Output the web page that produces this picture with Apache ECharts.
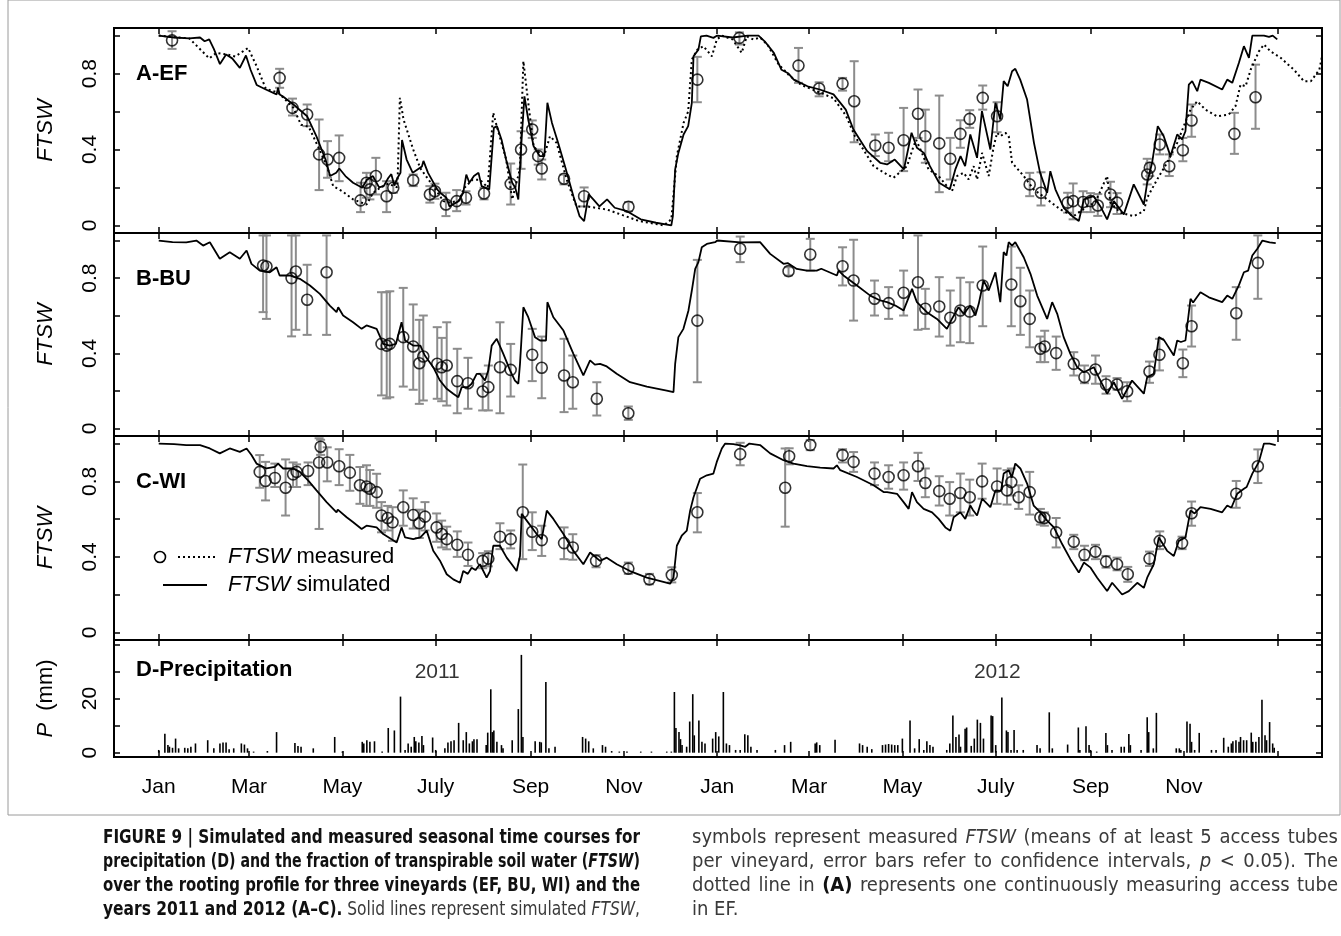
<!DOCTYPE html>
<html>
<head>
<meta charset="utf-8">
<script src="https://cdn.jsdelivr.net/npm/echarts@6/dist/echarts.min.js"></script>
<style>
  html,body{margin:0;padding:0;background:#fff;}
  #wrap{position:relative;width:1341px;height:936px;overflow:hidden;}
  #chart{position:absolute;left:0;top:0;width:1341px;height:936px;}
  .cap{position:absolute;font-family:"Liberation Sans Narrow","DejaVu Sans Condensed","Liberation Sans",Arial,sans-serif;font-stretch:condensed;font-size:20px;line-height:24px;color:#3a3a3a;}
  .cap div{white-space:nowrap;height:24px;}
  .cap span.ln{display:inline-block;transform-origin:0 0;}
  .cap b{color:#111;}
</style>
</head>
<body>
<div id="wrap">
  <div id="chart"></div>
  <div class="cap" id="capL" style="left:103px;top:824px;width:537px;">
    <div><span class="ln j"><b>FIGURE 9 | Simulated and measured seasonal time courses for</b></span></div>
    <div><span class="ln j"><b>precipitation (D) and the fraction of transpirable soil water (<i>FTSW</i>)</b></span></div>
    <div><span class="ln j"><b>over the rooting profile for three vineyards (EF, BU, WI) and the</b></span></div>
    <div><span class="ln j"><b>years 2011 and 2012 (A–C).</b> Solid lines represent simulated <i>FTSW</i>,</span></div>
  </div>
  <div class="cap" id="capR" style="left:692px;top:824px;width:646px;">
    <div><span class="ln j">symbols represent measured <i>FTSW</i> (means of at least 5 access tubes</span></div>
    <div><span class="ln j">per vineyard, error bars refer to confidence intervals, <i>p</i> &lt; 0.05). The</span></div>
    <div><span class="ln j">dotted line in <b>(A)</b> represents one continuously measuring access tube</span></div>
    <div><span class="ln">in EF.</span></div>
  </div>
</div>
<script>
// ---------------- DATA (x = days since 1 Jan 2011) ----------------
const monthTickDays   = [0, 59, 120, 181, 243, 304, 365, 425, 486, 547, 609, 670, 731];
const monthTickLabels = ['Jan','Mar','May','July','Sep','Nov','Jan','Mar','May','July','Sep','Nov',''];
const ftswTicks  = [0, 0.2, 0.4, 0.6, 0.8, 1.0];
const ftswLabels = [0, 0.4, 0.8];
const precipTicks  = [0, 10, 20, 30, 40];
const precipLabels = [0, 20];
const yearLabels = [[182, 29.7, '2011'], [548, 29.7, '2012']];

// Panel A (EF) simulated FTSW
const simA = [[0,1.0],[10,0.99],[20,0.985],[27,0.99],[30,0.97],[33,0.98],[36,0.93],[40,0.85],[44,0.90],[48,0.88],[53,0.83],[57,0.895],[60,0.82],[64,0.74],[70,0.716],[77,0.69],[78,0.725],[79,0.69],[81,0.68],[88,0.637],[97,0.575],[103,0.47],[109,0.347],[112,0.26],[116,0.277],[118,0.30],[122,0.26],[127,0.225],[133,0.198],[136,0.24],[140,0.26],[144,0.2],[147,0.207],[150,0.25],[152,0.27],[154,0.21],[156,0.25],[158,0.277],[159,0.45],[162,0.347],[166,0.277],[172,0.31],[173,0.34],[176,0.277],[182,0.19],[184,0.172],[188,0.146],[190,0.10],[196,0.128],[199,0.172],[201,0.268],[203,0.225],[206,0.26],[209,0.277],[211,0.207],[216,0.19],[219,0.514],[221,0.523],[224,0.453],[227,0.347],[231,0.225],[233,0.198],[235,0.137],[237,0.435],[239,0.68],[241.5,0.558],[245,0.417],[249,0.365],[252,0.365],[254,0.646],[257,0.54],[261,0.435],[265.5,0.312],[271,0.154],[275,0.049],[278,0.023],[281,0.163],[284,0.137],[288,0.10],[293,0.137],[298,0.093],[306,0.075],[315,0.032],[325,0.014],[335,0.0],[336,0.049],[337.5,0.295],[339.6,0.382],[343,0.479],[346,0.523],[348.4,0.646],[349.5,0.891],[352.7,0.926],[354.3,0.996],[358,1.0],[362.5,0.988],[365,1.0],[375,0.99],[385,1.0],[392,1.0],[396,0.97],[402,0.909],[407,0.82],[411.6,0.80],[415,0.768],[424,0.733],[432,0.716],[441,0.69],[449,0.61],[454,0.505],[463,0.391],[471.5,0.33],[476,0.321],[481,0.347],[487,0.295],[492,0.488],[495.5,0.409],[500,0.382],[504,0.312],[510,0.225],[517,0.19],[520.6,0.295],[524,0.365],[527,0.312],[530.4,0.479],[534.8,0.356],[538,0.602],[543.5,0.4],[546.8,0.646],[550,0.558],[552.2,0.76],[554.8,0.733],[557.7,0.812],[559.8,0.825],[563,0.768],[567.5,0.663],[572,0.435],[576,0.277],[580.6,0.172],[582.7,0.286],[586,0.19],[591.4,0.093],[597,0.049],[601.3,0.023],[604.6,0.137],[611,0.154],[615.4,0.10],[619.8,0.032],[624.2,0.128],[630.7,0.058],[637.2,0.216],[643.8,0.11],[646,0.225],[649.2,0.33],[652.9,0.523],[656.8,0.47],[661.2,0.365],[665.6,0.479],[668.8,0.453],[671,0.496],[673.2,0.742],[675.4,0.76],[678.7,0.707],[680.8,0.768],[686.3,0.751],[695,0.716],[698.3,0.768],[701.6,0.751],[705.9,0.856],[709.2,0.944],[712.5,0.883],[714.7,1.0],[722.3,1.0],[725.6,0.993],[728,1.0],[731,0.98]];

// Panel A continuously measuring access tube (dotted)
const tubeA = [[0,1.0],[20,0.985],[33,0.88],[37.7,0.909],[45,0.90],[50,0.89],[58.4,0.935],[63.9,0.84],[70,0.72],[78,0.70],[88,0.62],[93,0.53],[98,0.52],[105,0.4],[110,0.31],[114,0.207],[120,0.18],[127,0.137],[135.8,0.11],[140,0.17],[145,0.2],[150,0.22],[156,0.2],[157.6,0.672],[160,0.558],[166.3,0.4],[171,0.30],[179.4,0.207],[186,0.128],[190,0.12],[196,0.13],[200,0.2],[205,0.24],[210,0.24],[215,0.2],[218.6,0.593],[221,0.52],[227,0.35],[231,0.137],[236,0.295],[238.3,0.865],[241.5,0.646],[245,0.417],[249,0.38],[252,0.37],[255.7,0.47],[260,0.435],[266.6,0.242],[273,0.10],[280,0.10],[292.8,0.084],[314,0.023],[330,0.0],[335,0.032],[338.6,0.365],[343,0.54],[346,0.6],[348.4,0.874],[352,0.926],[356,0.944],[361.5,0.891],[364.7,0.979],[368,1.0],[375,0.98],[381,0.909],[384.3,0.996],[388.7,0.979],[393,0.99],[398,0.95],[405,0.85],[412,0.79],[420,0.74],[432,0.7],[441,0.67],[449,0.58],[455,0.47],[462,0.38],[467.2,0.312],[476,0.268],[480.2,0.251],[489,0.312],[493.3,0.417],[495,0.45],[498.8,0.382],[503.1,0.295],[509.7,0.26],[515.1,0.207],[518.4,0.18],[521.7,0.26],[526,0.277],[529.3,0.242],[532.6,0.312],[534.8,0.242],[538.1,0.382],[542.4,0.26],[545.7,0.417],[547.9,0.488],[550,0.47],[553.3,0.488],[555.5,0.47],[557.7,0.33],[565.3,0.26],[571.8,0.19],[580.6,0.137],[589.3,0.084],[598,0.049],[606.7,0.10],[612,0.12],[619.8,0.26],[622,0.12],[628.5,0.067],[637.2,0.049],[643.8,0.075],[646,0.146],[652.5,0.242],[659,0.33],[665.6,0.435],[669.9,0.523],[674.3,0.61],[678.7,0.654],[684.1,0.61],[691.7,0.575],[699.3,0.584],[703.7,0.628],[707,0.742],[710.3,0.733],[713.6,0.82],[719,0.917],[722.3,0.953],[726.6,0.917],[733.2,0.883],[741.9,0.82],[748.4,0.76],[753,0.76],[758.5,0.82],[760.7,0.909]];

// Panel A measured: [day, mean, lower CI, upper CI]
const measA = [[8.7,0.975,0.93,1.023],[79,0.777,0.725,0.825],[87.4,0.619,0.579,0.668],[97,0.584,0.523,0.637],[104.8,0.374,0.186,0.558],[110.3,0.347,0.251,0.444],[117.9,0.356,0.233,0.474],[131.9,0.132,0.07,0.225],[135.8,0.225,0.146,0.277],[138,0.19,0.137,0.242],[141.9,0.26,0.163,0.356],[148.9,0.154,0.07,0.233],[153.3,0.198,0.172,0.233],[166.3,0.238,0.207,0.268],[177.2,0.163,0.12,0.207],[180.5,0.18,0.14,0.22],[187.7,0.11,0.049,0.172],[194.7,0.128,0.075,0.186],[200.8,0.146,0.11,0.18],[212.6,0.168,0.137,0.198],[230,0.219,0.11,0.326],[236.8,0.4,0.298,0.496],[244.1,0.505,0.461,0.553],[248,0.365,0.32,0.4],[250.3,0.3,0.242,0.347],[264.9,0.246,0.216,0.268],[278,0.154,0.1,0.2],[307,0.098,0.075,0.123],[352,0.768,0.649,0.888],[379.5,0.988,0.953,1.017],[418.1,0.842,0.751,0.935],[431.6,0.721,0.68,0.754],[446.9,0.747,0.71,0.777],[454.5,0.654,0.438,0.865],[468.3,0.421,0.365,0.479],[477,0.409,0.338,0.488],[486.8,0.449,0.286,0.619],[496.2,0.588,0.461,0.716],[501,0.47,0.33,0.61],[510.1,0.432,0.175,0.684],[517.3,0.351,0.242,0.461],[523.9,0.482,0.409,0.554],[530,0.561,0.514,0.607],[538.5,0.672,0.61,0.737],[547.9,0.575,0.491,0.649],[569.2,0.216,0.154,0.277],[576.6,0.172,0.105,0.28],[594,0.12,0.067,0.172],[597.6,0.128,0.032,0.221],[604.1,0.123,0.07,0.18],[609,0.128,0.07,0.17],[613.7,0.105,0.05,0.165],[622,0.163,0.096,0.23],[626.3,0.12,0.06,0.17],[646,0.268,0.216,0.351],[647.7,0.304,0.26,0.33],[654.2,0.426,0.374,0.479],[660.4,0.312,0.26,0.374],[669.3,0.396,0.338,0.461],[675,0.553,0.467,0.637],[703,0.482,0.377,0.593],[716.8,0.675,0.509,0.847]];

// Panel B (BU)
const simB = [[0,1.0],[9,0.991],[18,0.99],[24.6,1.0],[29,0.973],[33.4,0.991],[39.9,0.903],[46.4,0.938],[53,0.903],[57.4,0.947],[60.6,0.876],[66,0.84],[72.6,0.831],[77,0.858],[79,0.814],[85.7,0.814],[92.2,0.796],[98.8,0.761],[105.3,0.716],[111.8,0.654],[116.2,0.619],[117.3,0.645],[120.5,0.601],[127,0.565],[132.6,0.53],[135.8,0.548],[142.4,0.53],[146.7,0.45],[151,0.441],[155,0.45],[158.7,0.565],[161,0.468],[166.3,0.441],[171,0.441],[173.9,0.388],[179.4,0.326],[183.8,0.255],[188.2,0.211],[192.5,0.185],[195.8,0.166],[198,0.22],[202,0.22],[204.5,0.238],[207.8,0.291],[210,0.29],[213.2,0.255],[215.4,0.309],[217.6,0.441],[220.9,0.477],[225.2,0.397],[229.6,0.309],[232.8,0.255],[235,0.238],[236.1,0.344],[238.3,0.645],[241.5,0.592],[245.9,0.486],[249.2,0.468],[253.1,0.468],[254,0.672],[257.9,0.592],[264.5,0.521],[271,0.397],[277.5,0.282],[281.9,0.362],[285,0.34],[288.4,0.344],[292.8,0.33],[299.3,0.291],[308,0.246],[319,0.223],[332,0.202],[336.4,0.193],[337.5,0.344],[339.6,0.486],[342.9,0.53],[346.2,0.628],[348.4,0.734],[350.6,0.849],[352.7,0.885],[354.9,0.964],[358.2,0.982],[363.6,0.991],[365,1.0],[380,0.99],[393,0.991],[399.6,0.929],[408.3,0.876],[411,0.88],[417,0.849],[423.6,0.84],[430,0.84],[433,0.85],[443.2,0.814],[444.3,0.84],[447.5,0.814],[456.3,0.761],[465,0.707],[471.5,0.681],[476,0.672],[481.4,0.654],[486.8,0.628],[492.3,0.743],[495.5,0.672],[502,0.619],[508.6,0.583],[515.1,0.53],[518.4,0.583],[522.7,0.645],[526,0.61],[530.4,0.654],[533.7,0.601],[535.9,0.663],[539.1,0.787],[542.4,0.734],[546.8,0.831],[550,0.672],[552.2,0.938],[554,0.92],[555.5,0.991],[557.7,0.973],[559.8,0.991],[565.3,0.911],[569.7,0.823],[574.1,0.707],[580.6,0.583],[583.9,0.672],[587.2,0.61],[591.4,0.486],[595.8,0.397],[600.2,0.326],[604.6,0.299],[611.1,0.326],[615.4,0.255],[619.8,0.185],[624.2,0.246],[629.6,0.158],[636.1,0.255],[643.8,0.185],[646,0.273],[650.3,0.291],[653.6,0.486],[657,0.47],[663.4,0.388],[665.6,0.468],[668,0.46],[671,0.468],[674.3,0.69],[676,0.67],[680.8,0.725],[686.3,0.698],[695,0.672],[698.3,0.707],[701.6,0.69],[705.9,0.761],[709.2,0.831],[712,0.84],[714.7,0.92],[718,0.956],[721.3,1.0],[726,0.99],[730,0.986]];
const measB = [[68.2,0.867,0.619,1.027],[70.4,0.862,0.583,1.027],[86.8,0.8,0.49,1.027],[89.6,0.835,0.525,1.027],[97,0.685,0.498,0.871],[109.7,0.831,0.498,1.027],[145.6,0.45,0.176,0.725],[149,0.441,0.16,0.725],[151,0.45,0.166,0.73],[159.8,0.486,0.223,0.748],[166.3,0.436,0.206,0.66],[170.3,0.347,0.131,0.578],[172.9,0.383,0.149,0.601],[182,0.344,0.158,0.539],[184.9,0.326,0.145,0.482],[188.2,0.335,0.122,0.565],[195.1,0.252,0.081,0.424],[202.1,0.241,0.105,0.376],[211.7,0.197,0.096,0.291],[215.4,0.22,0.096,0.335],[223,0.326,0.081,0.565],[230,0.312,0.17,0.45],[244.1,0.392,0.252,0.53],[250.3,0.323,0.161,0.489],[264.9,0.282,0.087,0.477],[270.6,0.246,0.105,0.388],[286.3,0.158,0.069,0.246],[306.9,0.081,0.046,0.117],[352,0.574,0.246,0.897],[380,0.956,0.885,1.021],[411.6,0.837,0.814,0.858],[425.8,0.926,0.84,1.009],[446.9,0.863,0.761,0.964],[454.1,0.787,0.574,1.004],[467.8,0.69,0.601,0.787],[477,0.667,0.583,0.752],[486.8,0.722,0.601,0.84],[496.2,0.778,0.525,1.027],[501,0.637,0.53,0.743],[510.1,0.649,0.489,0.805],[517.3,0.589,0.441,0.734],[523.9,0.628,0.459,0.802],[530,0.622,0.454,0.778],[538.5,0.761,0.544,0.968],[557.2,0.766,0.544,0.968],[563.1,0.677,0.498,0.855],[569.2,0.583,0.432,0.734],[576.2,0.424,0.353,0.489],[579,0.436,0.353,0.52],[586.5,0.401,0.312,0.489],[598,0.344,0.282,0.406],[605,0.273,0.241,0.335],[612.2,0.314,0.238,0.388],[619.1,0.234,0.185,0.278],[626.3,0.234,0.206,0.268],[632.9,0.198,0.145,0.246],[647.5,0.303,0.243,0.356],[654,0.392,0.309,0.477],[669.3,0.347,0.273,0.42],[675,0.544,0.436,0.654],[704.2,0.613,0.472,0.752],[718.3,0.881,0.69,1.027]];

// Panel C (WI)
const simC = [[0,1.0],[10,0.997],[18,0.992],[27,0.992],[33.4,0.974],[39.9,0.948],[46.4,0.974],[53,0.956],[57.4,0.974],[60.6,0.939],[63.9,0.894],[70.4,0.868],[75.9,0.876],[78,0.894],[81.3,0.868],[87.8,0.868],[92.2,0.85],[97.6,0.805],[103.1,0.752],[109.7,0.69],[116.2,0.636],[117,0.65],[122.8,0.61],[127.1,0.583],[132.6,0.548],[135.8,0.565],[142.4,0.556],[146.7,0.521],[155.5,0.476],[158.7,0.556],[161,0.503],[166.3,0.494],[171,0.503],[175.1,0.539],[179.4,0.432],[183.8,0.38],[188.2,0.308],[192.5,0.281],[196.9,0.263],[199,0.325],[202,0.31],[204.5,0.343],[207,0.33],[209.9,0.361],[214.3,0.29],[216.5,0.325],[218.6,0.459],[223,0.459],[227.4,0.396],[230.7,0.361],[233.9,0.325],[236.1,0.405],[237.2,0.628],[240.5,0.592],[247,0.521],[250.3,0.494],[253.6,0.645],[257.9,0.601],[264.5,0.521],[271,0.432],[277.5,0.361],[281.9,0.423],[288.4,0.379],[292.8,0.396],[299.3,0.361],[308,0.325],[319,0.29],[334.2,0.258],[336.4,0.29],[338.6,0.459],[341.8,0.512],[345.1,0.539],[347.3,0.645],[349.5,0.716],[353.8,0.814],[358.2,0.832],[362.5,0.841],[364.7,0.903],[368,0.974],[370.2,1.0],[375.6,0.997],[380,0.99],[383.3,0.983],[386,1.0],[393,0.992],[399.6,0.948],[408.3,0.912],[414.8,0.894],[423.6,0.88],[432.3,0.873],[441,0.868],[443.2,0.885],[445.4,0.859],[456.3,0.823],[467.2,0.779],[473.7,0.743],[476,0.743],[482.5,0.734],[486.8,0.69],[490.1,0.654],[492.3,0.743],[495.5,0.69],[499.9,0.654],[505.4,0.636],[509.7,0.601],[514.1,0.556],[517.3,0.539],[519.5,0.61],[523.9,0.636],[527.1,0.601],[530.4,0.672],[532,0.65],[534.8,0.619],[538.1,0.708],[543.5,0.663],[546.8,0.752],[550.5,0.75],[552.2,0.841],[555.5,0.859],[557.5,0.82],[559.8,0.894],[563.1,0.868],[567.5,0.788],[571.8,0.672],[576.2,0.636],[580.6,0.592],[585,0.556],[590.4,0.468],[595.8,0.388],[601.3,0.317],[604.6,0.37],[609,0.343],[613.3,0.29],[619.8,0.219],[623.1,0.263],[629.6,0.201],[634,0.219],[639.5,0.263],[643.8,0.236],[646,0.29],[650.3,0.361],[653.6,0.503],[659,0.432],[663.4,0.405],[666.7,0.485],[671,0.503],[674.3,0.645],[677,0.63],[680.8,0.663],[687.4,0.654],[695,0.636],[698.3,0.672],[701,0.66],[704.8,0.734],[709.2,0.761],[711,0.77],[714.7,0.841],[719,0.903],[722.3,1.0],[726,1.0],[730,0.992]];
const measC = [[66,0.85,0.766,0.939],[69.8,0.802,0.699,0.903],[75.9,0.818,0.77,0.894],[82.9,0.766,0.619,0.916],[87.8,0.837,0.77,0.9],[90.1,0.85,0.77,0.89],[97.6,0.855,0.78,0.9],[104.8,0.9,0.548,1.028],[105.8,0.983,0.94,1.02],[110.1,0.9,0.8,0.98],[117.9,0.88,0.78,0.97],[124.9,0.846,0.75,0.94],[131.5,0.779,0.681,0.876],[135.8,0.773,0.67,0.885],[138,0.761,0.67,0.86],[142.4,0.743,0.66,0.84],[145.6,0.619,0.53,0.69],[149.6,0.606,0.54,0.67],[152.8,0.583,0.485,0.663],[159.8,0.663,0.565,0.752],[166.3,0.622,0.55,0.71],[170.3,0.578,0.5,0.65],[174,0.613,0.54,0.69],[181.6,0.556,0.48,0.63],[184.9,0.521,0.45,0.592],[188.2,0.494,0.44,0.56],[195.1,0.464,0.4,0.535],[202.1,0.411,0.352,0.476],[211.7,0.379,0.34,0.42],[215.4,0.391,0.35,0.43],[223,0.507,0.441,0.578],[230,0.494,0.445,0.54],[237.9,0.636,0.388,0.889],[244.1,0.533,0.436,0.636],[250.3,0.489,0.405,0.565],[264.9,0.473,0.388,0.556],[270.6,0.45,0.385,0.52],[285.8,0.379,0.345,0.41],[306.9,0.338,0.31,0.37],[320.7,0.281,0.255,0.31],[335.3,0.304,0.265,0.345],[352,0.636,0.53,0.738],[380,0.944,0.885,1.004],[409.4,0.766,0.56,0.974],[412,0.933,0.89,0.975],[425.8,0.992,0.965,1.019],[446.9,0.939,0.9,0.97],[454.1,0.903,0.85,0.955],[467.8,0.841,0.78,0.9],[477,0.823,0.761,0.885],[486.8,0.832,0.756,0.9],[496.2,0.88,0.802,0.951],[501,0.791,0.716,0.868],[510.1,0.748,0.672,0.827],[516.9,0.708,0.619,0.796],[523.9,0.738,0.636,0.841],[530,0.716,0.619,0.809],[538.1,0.8,0.708,0.894],[547.9,0.773,0.681,0.868],[554.4,0.752,0.677,0.859],[557.2,0.796,0.725,0.868],[562,0.716,0.654,0.779],[569.2,0.743,0.624,0.85],[576.2,0.61,0.571,0.654],[578.8,0.606,0.565,0.636],[586.5,0.53,0.45,0.606],[598,0.48,0.441,0.517],[605,0.411,0.382,0.459],[612.2,0.427,0.388,0.464],[619.1,0.375,0.343,0.405],[626.3,0.361,0.329,0.396],[633.3,0.308,0.268,0.347],[647.5,0.391,0.352,0.428],[654.2,0.485,0.441,0.535],[668.8,0.473,0.441,0.507],[675,0.631,0.565,0.693],[704.2,0.734,0.66,0.802],[718.3,0.88,0.791,0.969]];

// Panel D daily precipitation (mm), rainy days only
const precip = [[0,1.0],[4,7.0],[6,2.8],[7,2.2],[9,1.8],[11,5.2],[13,1.6],[17,1.8],[19,1.6],[21,2.2],[24,3.4],[32,4.6],[36,1.6],[40,3.4],[42,3.8],[44,3.8],[46,1.3],[49,1.6],[54,3.4],[56,3.0],[58,1.6],[62,0.4],[71,0.6],[77,7.6],[89,3.6],[91,2.5],[93,2.2],[101,1.6],[115,5.8],[120,0.4],[133,4.0],[134,3.4],[136,4.6],[138,4.0],[141,4.2],[146,0.4],[150,9.1],[154,8.2],[158,20.7],[161,1.0],[163,3.4],[165,2.2],[167,5.8],[168,4.2],[170,3.8],[172,6.2],[173,2.8],[179,5.6],[181,1.0],[187,1.6],[189,3.8],[191,4.2],[193,4.6],[196,11.0],[199,4.6],[201,7.6],[203,3.4],[205,4.2],[206,5.0],[208,5.0],[214,2.8],[215,7.4],[217,23.4],[218,7.6],[219,8.2],[221,4.0],[224,2.8],[225,1.6],[231,4.6],[235,16.1],[237,36.1],[238,5.8],[246,4.2],[249,4.0],[250,3.8],[253,26.1],[255,1.6],[259,2.2],[277,5.8],[279,5.2],[281,4.2],[284,1.6],[290,2.8],[292,2.2],[296,0.6],[301,0.4],[306,0.4],[315,0.4],[322,0.4],[332,0.4],[335,0.4],[337,22.4],[338,9.1],[340,7.6],[341,5.0],[342,2.8],[345,2.2],[347,11.5],[349,21.6],[350,6.4],[353,11.9],[355,4.0],[357,3.4],[362,5.2],[364,7.6],[366,6.0],[369,22.4],[371,3.4],[373,2.8],[377,1.0],[380,1.0],[383,6.8],[385,6.4],[387,2.2],[391,1.0],[403,1.0],[409,2.8],[413,4.0],[429,3.4],[430,3.8],[432,2.8],[442,4.8],[458,3.4],[460,2.8],[463,2.2],[466,1.3],[473,2.8],[475,3.0],[477,3.2],[479,3.0],[481,2.8],[483,2.8],[486,5.2],[491,11.9],[494,1.6],[497,5.0],[500,1.0],[502,4.2],[504,2.8],[506,2.2],[515,1.0],[517,3.4],[519,13.7],[521,5.8],[523,6.7],[524,2.2],[527,8.8],[528,9.3],[531,2.5],[533,5.2],[535,12.2],[537,11.0],[539,5.2],[544,13.7],[545,13.5],[547,2.8],[551,20.4],[554,8.2],[555,7.6],[557,1.0],[559,8.4],[561,1.0],[565,1.0],[574,2.8],[576,1.6],[582,14.9],[584,1.6],[594,3.0],[601,9.3],[602,1.0],[606,9.8],[608,2.8],[609,1.0],[613,0.4],[619,7.3],[620,2.8],[623,1.0],[629,2.2],[631,2.2],[634,6.9],[635,2.8],[642,1.0],[646,13.1],[647,7.6],[650,1.6],[652,14.7],[665,1.6],[667,1.6],[668,1.0],[672,11.5],[674,10.7],[675,4.0],[677,1.0],[680,7.3],[688,1.0],[691,1.0],[696,5.5],[699,2.2],[701,3.4],[702,4.2],[704,4.6],[706,4.0],[707,5.8],[709,4.6],[711,4.6],[714,7.4],[715,4.0],[717,4.0],[719,5.8],[721,19.5],[723,6.4],[724,4.6],[726,11.3],[728,3.4],[729,1.8]];

// ---------------- CHART ----------------
const FONT = '"Liberation Sans", Arial, Helvetica, sans-serif';
const X_MIN = -29.24, X_MAX = 760.24;
const chart = echarts.init(document.getElementById('chart'), null, {renderer: 'canvas'});

const grids = [
  {left: 114, right: 19, top: 28, height: 205},
  {left: 114, right: 19, top: 233, height: 203},
  {left: 114, right: 19, top: 436, height: 204},
  {left: 114, right: 19, top: 640, height: 117}
].map(g => Object.assign(g, {show: true, borderColor: '#000', borderWidth: 2, backgroundColor: 'transparent'}));

const tickStyle = {color: '#000', width: 1.5};
const xAxes = [], yAxes = [];
for (let i = 0; i < 4; i++) {
  xAxes.push({
    gridIndex: i, type: 'value', min: X_MIN, max: X_MAX, position: 'bottom',
    axisLine: {show: false, onZero: false}, splitLine: {show: false},
    axisTick: {show: true, inside: true, length: 6, customValues: monthTickDays, lineStyle: tickStyle},
    axisLabel: {
      show: i === 3, customValues: monthTickDays.slice(0, 12), margin: 20,
      fontFamily: FONT, fontSize: 21, color: '#000',
      formatter: v => { const k = monthTickDays.indexOf(Math.round(v)); return k >= 0 ? monthTickLabels[k] : ''; }
    }
  });
  xAxes.push({
    gridIndex: i, type: 'value', min: X_MIN, max: X_MAX, position: 'top',
    axisLine: {show: false, onZero: false}, splitLine: {show: false},
    axisTick: {show: true, inside: true, length: 6, customValues: monthTickDays, lineStyle: tickStyle},
    axisLabel: {show: false}
  });
  const isP = i === 3;
  yAxes.push({
    gridIndex: i, type: 'value', position: 'left',
    min: isP ? -1.6 : -0.04, max: isP ? 41.6 : 1.04,
    axisLine: {show: false, onZero: false}, splitLine: {show: false},
    axisTick: {show: true, inside: true, length: 6, customValues: isP ? precipTicks : ftswTicks, lineStyle: tickStyle},
    axisLabel: {
      customValues: isP ? precipLabels : ftswLabels, rotate: 90, margin: 13,
      fontFamily: FONT, fontSize: 21, color: '#000',
      formatter: v => String(Math.round(v * 10) / 10)
    },
    name: isP ? '{i|P}  (mm)' : 'FTSW', nameLocation: 'middle', nameRotate: 90, nameGap: 57,
    nameTextStyle: isP
      ? {fontFamily: FONT, fontSize: 22, color: '#000', rich: {i: {fontFamily: FONT, fontSize: 22, fontStyle: 'italic', color: '#000'}}}
      : {fontFamily: FONT, fontSize: 22, color: '#000', fontStyle: 'italic'}
  });
  yAxes.push({
    gridIndex: i, type: 'value', position: 'right',
    min: isP ? -1.6 : -0.04, max: isP ? 41.6 : 1.04,
    axisLine: {show: false, onZero: false}, splitLine: {show: false},
    axisTick: {show: true, inside: true, length: 6, customValues: isP ? precipTicks : ftswTicks, lineStyle: tickStyle},
    axisLabel: {show: false}
  });
}

function errRender(params, api) {
  const x = api.value(0), lo = api.value(2), hi = api.value(3);
  const a = api.coord([x, lo]), b = api.coord([x, hi]);
  const c = 4.5;
  const style = {stroke: '#8c8c8c', lineWidth: 2, fill: null};
  return {type: 'group', children: [
    {type: 'line', shape: {x1: a[0], y1: a[1], x2: b[0], y2: b[1]}, style},
    {type: 'line', shape: {x1: a[0] - c, y1: a[1], x2: a[0] + c, y2: a[1]}, style},
    {type: 'line', shape: {x1: b[0] - c, y1: b[1], x2: b[0] + c, y2: b[1]}, style}
  ]};
}

const series = [];
const sims = [simA, simB, simC], meas = [measA, measB, measC];
for (let i = 0; i < 3; i++) {
  series.push({
    type: 'custom', xAxisIndex: 2 * i, yAxisIndex: 2 * i, renderItem: errRender,
    encode: {x: 0, y: 1}, data: meas[i], z: 2, silent: true
  });
  series.push({
    type: 'line', xAxisIndex: 2 * i, yAxisIndex: 2 * i, data: sims[i], showSymbol: false,
    lineStyle: {color: '#000', width: 1.8}, z: 3, clip: true, silent: true
  });
  series.push({
    type: 'scatter', xAxisIndex: 2 * i, yAxisIndex: 2 * i, data: meas[i].map(d => [d[0], d[1]]),
    symbol: 'circle', symbolSize: 11,
    itemStyle: {color: 'rgba(0,0,0,0)', borderColor: '#000', borderWidth: 1.6}, z: 4, silent: true
  });
}
series.push({
  type: 'line', xAxisIndex: 0, yAxisIndex: 0, data: tubeA, showSymbol: false,
  lineStyle: {color: '#000', width: 2, type: [2, 3]}, z: 3, clip: true, silent: true
});
series.push({
  type: 'bar', xAxisIndex: 6, yAxisIndex: 6, data: precip, barWidth: 1.6,
  itemStyle: {color: '#000'}, z: 3, silent: true, large: false
});
series.push({
  type: 'scatter', xAxisIndex: 6, yAxisIndex: 6, data: yearLabels, symbolSize: 0,
  label: {show: true, position: 'inside', formatter: p => p.data[2], fontFamily: FONT, fontSize: 21, color: '#000'},
  silent: true
});

const panelTitles = [['A-EF', 74], ['B-BU', 279], ['C-WI', 482], ['D-Precipitation', 670]];
const graphic = panelTitles.map(t => ({
  type: 'text', x: 136, y: t[1],
  style: {text: t[0], font: 'bold 22px ' + FONT, fill: '#000', verticalAlign: 'middle'}
}));
graphic.push(
  {type: 'circle', shape: {cx: 160, cy: 557, r: 5.5}, style: {stroke: '#000', lineWidth: 1.6, fill: null}},
  {type: 'line', shape: {x1: 178, y1: 557, x2: 217, y2: 557}, style: {stroke: '#000', lineWidth: 2, lineDash: [2, 3]}},
  {type: 'line', shape: {x1: 163, y1: 585, x2: 207, y2: 585}, style: {stroke: '#000', lineWidth: 1.8}},
  {type: 'text', x: 228, y: 557, style: {text: '{i|FTSW} measured', font: '22px ' + FONT, fill: '#000', verticalAlign: 'middle',
    rich: {i: {fontStyle: 'italic', fontSize: 22, fontFamily: FONT}}}},
  {type: 'text', x: 228, y: 585, style: {text: '{i|FTSW} simulated', font: '22px ' + FONT, fill: '#000', verticalAlign: 'middle',
    rich: {i: {fontStyle: 'italic', fontSize: 22, fontFamily: FONT}}}},
  {type: 'rect', shape: {x: 8, y: 0, width: 1332, height: 815}, style: {stroke: '#9a9a9a', lineWidth: 1, fill: null}, silent: true}
);

chart.setOption({
  animation: false,
  backgroundColor: '#fff',
  grid: grids,
  xAxis: xAxes,
  yAxis: yAxes,
  series: series,
  graphic: graphic
});

// justify caption lines
document.querySelectorAll('.cap').forEach(col => {
  const W = parseFloat(col.style.width);
  col.querySelectorAll('span.ln').forEach(sp => {
    const w = sp.getBoundingClientRect().width;
    if (w > W) {
      sp.style.transform = 'scaleX(' + (W / w) + ')';
    } else if (sp.classList.contains('j')) {
      const n = (sp.textContent.match(/ /g) || []).length;
      if (n > 0) sp.style.wordSpacing = ((W - w) / n) + 'px';
    }
  });
});
</script>
</body>
</html>
